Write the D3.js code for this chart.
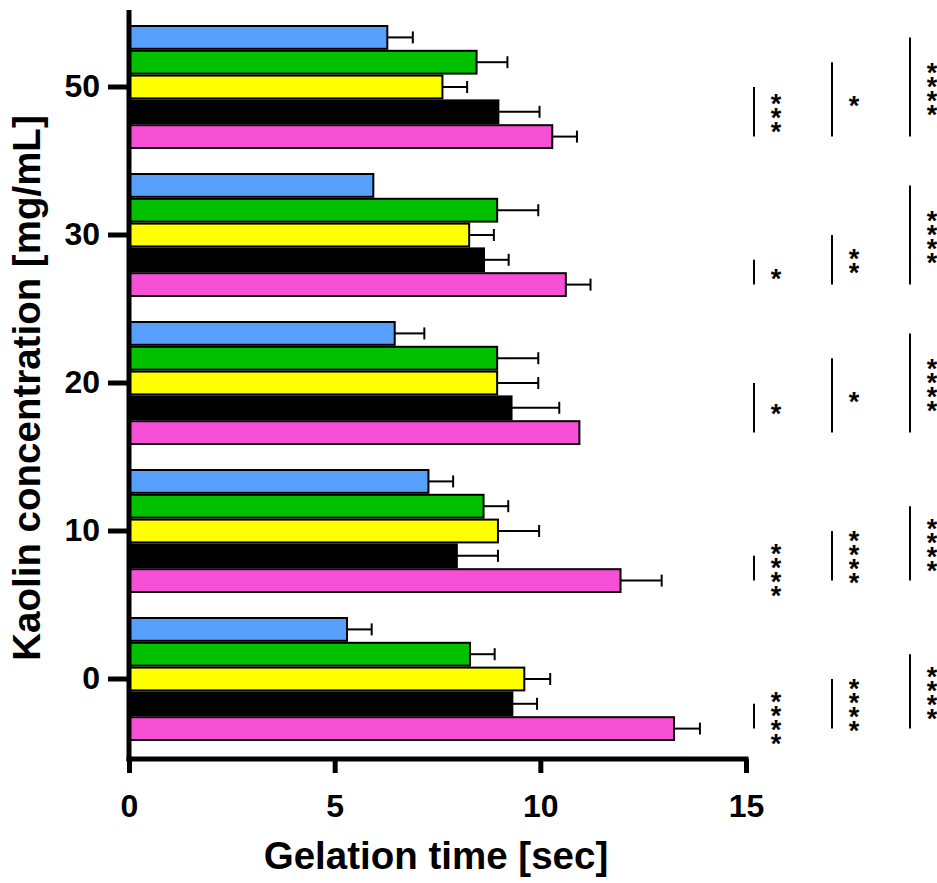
<!DOCTYPE html>
<html>
<head>
<meta charset="utf-8">
<script src="https://cdn.jsdelivr.net/npm/d3@7"></script>
<style>
  html, body { margin: 0; padding: 0; background: #fff; }
  svg { display: block; font-family: "Liberation Sans", Arial, sans-serif; }
</style>
</head>
<body>
<div id="chart"></div>
<script>
// kaolin concentration groups, top to bottom
var categories = ['50', '30', '20', '10', '0'];
var seriesNames = ['blue', 'green', 'yellow', 'black', 'magenta'];

// mean gelation time [sec] per group
var blueValues    = [6.28, 5.94, 6.46, 7.28, 5.30];
var greenValues   = [8.45, 8.95, 8.95, 8.62, 8.29];
var yellowValues  = [7.62, 8.27, 8.95, 8.97, 9.61];
var blackValues   = [8.98, 8.63, 9.30, 7.97, 9.32];
var magentaValues = [10.29, 10.62, 10.95, 11.95, 13.25];

// error (SD) per group
var blueErr    = [0.62, 0, 0.72, 0.60, 0.60];
var greenErr   = [0.75, 1.00, 1.00, 0.60, 0.60];
var yellowErr  = [0.60, 0.60, 1.00, 1.00, 0.63];
var blackErr   = [1.00, 0.60, 1.16, 1.00, 0.60];
var magentaErr = [0.60, 0.60, 0, 1.00, 0.63];

var xTicks = [0, 5, 10, 15];

// significance: series compared against magenta, per bracket column
var sigFrom = [[2, 1, 0], [3, 2, 0], [2, 1, 0], [3, 2, 1], [3, 2, 1]];
var sigLabels = [
    ['***', '*', '****'],
    ['*', '**', '****'],
    ['*', '*', '****'],
    ['****', '****', '****'],
    ['****', '****', '****']
];

(function() {
    var width = 937, height = 883;
    var colors = ['#569ffa', '#00c000', '#ffff00', '#000000', '#f54fd6'];
    var values = [blueValues, greenValues, yellowValues, blackValues, magentaValues];
    var errs = [blueErr, greenErr, yellowErr, blackErr, magentaErr];

    var rows = [];
    categories.forEach(function(c, ci) {
        seriesNames.forEach(function(s, si) {
            rows.push({ cat: c, ci: ci, series: s, si: si, value: values[si][ci], err: errs[si][ci] });
        });
    });

    var svg = d3.select('#chart').append('svg')
        .attr('width', width)
        .attr('height', height);

    var x = d3.scaleLinear().domain([0, 15]).range([129, 746]);
    var y = d3.scaleBand().domain(categories).range([13, 753]);
    var sub = d3.scaleBand().domain(seriesNames).range([-61, 61]).paddingInner(0.08);

    function cy(d) { return y(d.cat) + y.bandwidth() / 2 + sub(d.series) + sub.bandwidth() / 2; }

    // bars
    svg.append('g').selectAll('rect')
        .data(rows)
        .join('rect')
        .attr('x', x(0))
        .attr('y', function(d) { return cy(d) - sub.bandwidth() / 2; })
        .attr('width', function(d) { return x(d.value) - x(0); })
        .attr('height', sub.bandwidth())
        .attr('fill', function(d) { return colors[d.si]; })
        .attr('stroke', '#000')
        .attr('stroke-width', 2);

    // error bars
    var eb = svg.append('g').selectAll('g')
        .data(rows.filter(function(d) { return d.err > 0; }))
        .join('g')
        .attr('stroke', '#000')
        .attr('stroke-width', 2);
    eb.append('line')
        .attr('x1', function(d) { return x(d.value); })
        .attr('x2', function(d) { return x(d.value + d.err); })
        .attr('y1', cy)
        .attr('y2', cy);
    eb.append('line')
        .attr('x1', function(d) { return x(d.value + d.err); })
        .attr('x2', function(d) { return x(d.value + d.err); })
        .attr('y1', function(d) { return cy(d) - 6; })
        .attr('y2', function(d) { return cy(d) + 6; });

    // axes
    var yAxis = svg.append('g')
        .attr('transform', 'translate(' + x(0) + ',0)')
        .call(d3.axisLeft(y).tickSize(21).tickPadding(8).tickSizeOuter(0));
    yAxis.select('.domain').remove();
    yAxis.selectAll('.tick line').attr('stroke-width', 5);
    yAxis.selectAll('.tick text')
        .attr('font-size', 32)
        .attr('font-weight', 'bold')
        .attr('font-family', '"Liberation Sans", Arial, sans-serif')
        .attr('fill', '#000');

    var xAxis = svg.append('g')
        .attr('transform', 'translate(0,759)')
        .call(d3.axisBottom(x).tickValues(xTicks).tickSize(14).tickPadding(21).tickSizeOuter(0));
    xAxis.select('.domain').remove();
    xAxis.selectAll('.tick line').attr('stroke-width', 5);
    xAxis.selectAll('.tick text')
        .attr('font-size', 32)
        .attr('font-weight', 'bold')
        .attr('font-family', '"Liberation Sans", Arial, sans-serif')
        .attr('fill', '#000');

    svg.append('line')
        .attr('x1', x(0)).attr('x2', x(0))
        .attr('y1', 10).attr('y2', 761.5)
        .attr('stroke', '#000').attr('stroke-width', 5);
    svg.append('line')
        .attr('x1', x(0) - 2.5).attr('x2', x(15) + 2.5)
        .attr('y1', 759).attr('y2', 759)
        .attr('stroke', '#000').attr('stroke-width', 5);

    // axis titles
    svg.append('text')
        .attr('x', 436)
        .attr('y', 869)
        .attr('text-anchor', 'middle')
        .attr('font-size', 38.5)
        .attr('font-weight', 'bold')
        .text('Gelation time [sec]');

    svg.append('text')
        .attr('transform', 'translate(40,388) rotate(-90)')
        .attr('text-anchor', 'middle')
        .attr('font-size', 38.5)
        .attr('font-weight', 'bold')
        .text('Kaolin concentration [mg/mL]');

    // significance brackets
    var colX = d3.scalePoint().domain([0, 1, 2]).range([754, 910]);
    var sig = [];
    categories.forEach(function(c, ci) {
        sigFrom[ci].forEach(function(from, k) {
            var top = rows.find(function(r) { return r.ci === ci && r.si === from; });
            var bot = rows.find(function(r) { return r.ci === ci && r.si === 4; });
            sig.push({ col: k, y1: cy(top), y2: cy(bot), label: sigLabels[ci][k] });
        });
    });

    var sg = svg.append('g').selectAll('g').data(sig).join('g');
    sg.append('line')
        .attr('x1', function(d) { return colX(d.col); })
        .attr('x2', function(d) { return colX(d.col); })
        .attr('y1', function(d) { return d.y1; })
        .attr('y2', function(d) { return d.y2; })
        .attr('stroke', '#000')
        .attr('stroke-width', 2);

    // stars stacked vertically, one tspan per star
    var starSize = 27, starPitch = 14;
    sg.append('text')
        .attr('text-anchor', 'middle')
        .attr('font-size', starSize)
        .attr('font-weight', 'bold')
        .each(function(d) {
            var t = d3.select(this);
            var n = d.label.length;
            var mid = (d.y1 + d.y2) / 2;
            d.label.split('').forEach(function(ch, i) {
                t.append('tspan')
                    .attr('x', colX(d.col) + 22)
                    .attr('y', mid + (i - (n - 1) / 2) * starPitch + 0.58 * starSize)
                    .text(ch);
            });
        });
})();
</script>
</body>
</html>
